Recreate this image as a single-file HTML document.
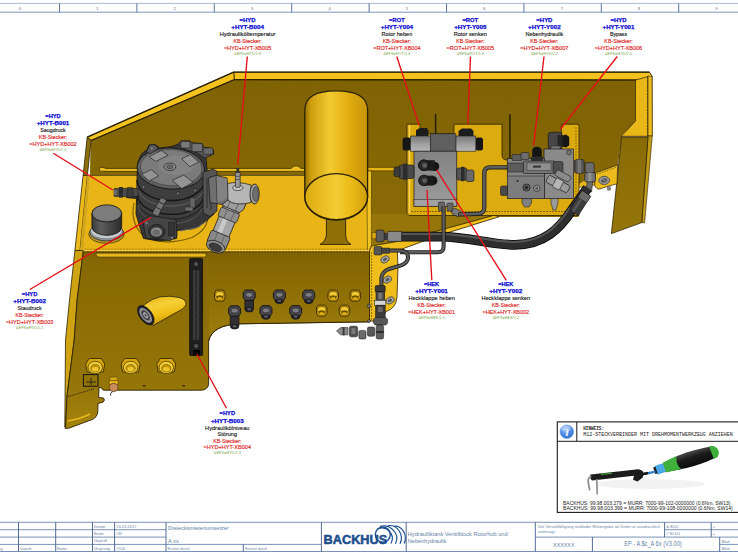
<!DOCTYPE html>
<html><head><meta charset="utf-8"><title>Hydrauliktank</title>
<style>
html,body{margin:0;padding:0;background:#fff;}
body{width:738px;height:555px;overflow:hidden;font-family:"Liberation Sans",sans-serif;}
svg{display:block;}
text{font-family:"Liberation Sans",sans-serif;}
.b{font-weight:bold;fill:#0a0ad4;stroke:#0a0ad4;stroke-width:0.25px;}
.k{fill:#0c0c0c;stroke:#0c0c0c;stroke-width:0.12px;}
.r{fill:#dc1c20;stroke:#dc1c20;stroke-width:0.15px;}
.g{fill:#7aa84a;}
.tb{fill:#5f7fa6;}
.mono{font-family:"Liberation Mono",monospace;fill:#222;}
</style></head><body>
<svg width="738" height="555" viewBox="0 0 738 555">
<defs>
<linearGradient id="gFront" x1="0" y1="0" x2="0" y2="1"><stop offset="0" stop-color="#7e6002"/><stop offset="0.15" stop-color="#856704"/><stop offset="1" stop-color="#9c7c0a"/></linearGradient>
<linearGradient id="gFrontL" x1="0" y1="0" x2="0" y2="1"><stop offset="0" stop-color="#7e6002"/><stop offset="0.08" stop-color="#876904"/><stop offset="0.78" stop-color="#957608"/><stop offset="1" stop-color="#a5840c"/></linearGradient>
<linearGradient id="gCyl" x1="0" y1="0" x2="1" y2="0"><stop offset="0" stop-color="#947204"/><stop offset="0.09" stop-color="#cc9c0c"/><stop offset="0.4" stop-color="#f3cb32"/><stop offset="0.68" stop-color="#e2ae10"/><stop offset="1" stop-color="#c6940a"/></linearGradient>
<linearGradient id="gCylIn" x1="0" y1="0" x2="1" y2="0"><stop offset="0" stop-color="#dcaa0e"/><stop offset="0.5" stop-color="#f4cc34"/><stop offset="0.72" stop-color="#ecbc18"/><stop offset="1" stop-color="#d09e0a"/></linearGradient>
<linearGradient id="gBW" x1="0" y1="0" x2="0" y2="1"><stop offset="0" stop-color="#7f6202"/><stop offset="1" stop-color="#8b6c06"/></linearGradient>
<linearGradient id="gSide" x1="0" y1="0" x2="0" y2="1"><stop offset="0" stop-color="#896b06"/><stop offset="1" stop-color="#95760a"/></linearGradient>
<linearGradient id="gCap" x1="0" y1="0" x2="1" y2="0"><stop offset="0" stop-color="#3a3a3a"/><stop offset="0.3" stop-color="#5e5e5e"/><stop offset="1" stop-color="#2a2a2a"/></linearGradient>
<linearGradient id="gSmallCyl" x1="0" y1="0" x2="0.35" y2="1"><stop offset="0" stop-color="#e0ae0c"/><stop offset="0.4" stop-color="#f6d038"/><stop offset="0.7" stop-color="#eebc14"/><stop offset="1" stop-color="#cc9c08"/></linearGradient>
<radialGradient id="gInfo" cx="0.4" cy="0.3" r="0.8"><stop offset="0" stop-color="#a8ccf8"/><stop offset="0.55" stop-color="#4a8ae6"/><stop offset="1" stop-color="#2a62c4"/></radialGradient>
<linearGradient id="gHandle" x1="0" y1="0" x2="0" y2="1"><stop offset="0" stop-color="#4a4a4a"/><stop offset="0.4" stop-color="#1c1c1c"/><stop offset="1" stop-color="#0c0c0c"/></linearGradient>
<linearGradient id="gCoil" x1="0" y1="0" x2="0" y2="1"><stop offset="0" stop-color="#767676"/><stop offset="0.6" stop-color="#a4a4a4"/><stop offset="1" stop-color="#b6b6b6"/></linearGradient>
<linearGradient id="gBody" x1="0" y1="0" x2="0" y2="1"><stop offset="0" stop-color="#828282"/><stop offset="1" stop-color="#9c9c9c"/></linearGradient>
</defs>
<rect x="0" y="0" width="738" height="555" fill="#ffffff"/>

<g id="ruler" fill="none">
<line x1="0" y1="3.4" x2="738" y2="3.4" stroke="#9db1ce" stroke-width="0.9"/><line x1="0" y1="12.2" x2="738" y2="12.2" stroke="#7b95ba" stroke-width="1"/>
<line x1="59.5" y1="3.4" x2="59.5" y2="12.2" stroke="#4a6690" stroke-width="0.9"/>
<line x1="136.9" y1="3.4" x2="136.9" y2="12.2" stroke="#4a6690" stroke-width="0.9"/>
<line x1="214.3" y1="3.4" x2="214.3" y2="12.2" stroke="#4a6690" stroke-width="0.9"/>
<line x1="291.7" y1="3.4" x2="291.7" y2="12.2" stroke="#4a6690" stroke-width="0.9"/>
<line x1="369.1" y1="3.4" x2="369.1" y2="12.2" stroke="#4a6690" stroke-width="0.9"/>
<line x1="446.5" y1="3.4" x2="446.5" y2="12.2" stroke="#4a6690" stroke-width="0.9"/>
<line x1="523.9" y1="3.4" x2="523.9" y2="12.2" stroke="#4a6690" stroke-width="0.9"/>
<line x1="601.3" y1="3.4" x2="601.3" y2="12.2" stroke="#4a6690" stroke-width="0.9"/>
<line x1="678.7" y1="3.4" x2="678.7" y2="12.2" stroke="#4a6690" stroke-width="0.9"/>
</g>
<text x="19.9" y="10" font-size="3.6" text-anchor="middle" fill="#44557a">0</text>
<text x="97.3" y="10" font-size="3.6" text-anchor="middle" fill="#44557a">1</text>
<text x="174.7" y="10" font-size="3.6" text-anchor="middle" fill="#44557a">2</text>
<text x="252.1" y="10" font-size="3.6" text-anchor="middle" fill="#44557a">3</text>
<text x="329.5" y="10" font-size="3.6" text-anchor="middle" fill="#44557a">4</text>
<text x="406.9" y="10" font-size="3.6" text-anchor="middle" fill="#44557a">5</text>
<text x="484.3" y="10" font-size="3.6" text-anchor="middle" fill="#44557a">6</text>
<text x="561.7" y="10" font-size="3.6" text-anchor="middle" fill="#44557a">7</text>
<text x="639.1" y="10" font-size="3.6" text-anchor="middle" fill="#44557a">8</text>
<text x="716.5" y="10" font-size="3.6" text-anchor="middle" fill="#44557a">9</text>
<g id="tank" stroke-linejoin="round">
<polygon points="90.5,140.5 234,79 637,79 637,122 622,135 618,165 595.4,173 578.5,184 578.5,217 496,217 400,243 371,249 371,172 304,175.4 90,175.4" fill="url(#gBW)" stroke="none"/>
<polygon points="87.2,137.2 233.6,72.2 649.5,72.2 652,76 652,136 648,136 648,80.5 636,80 234.5,79.6 91,140.5" fill="#f3c21d" stroke="#2b2204" stroke-width="0.9"/>
<line x1="233.8" y1="72.4" x2="234.4" y2="79.6" stroke="#2b2204" stroke-width="1"/><polyline points="87.2,137.2 233.6,72.2 649.5,72.2" fill="none" stroke="#2b2204" stroke-width="1.3"/><polyline points="91,140.5 234.5,79.6 636,80" fill="none" stroke="#2b2204" stroke-width="1.1"/>
<polygon points="635.5,80 648,76.5 648,136.3 621.3,136.3 635.5,121" fill="#e9b718" stroke="#2b2204" stroke-width="0.7"/>
<polygon points="648,76 652,76.5 652.3,136 648,136" fill="#eebc1c" stroke="#2b2204" stroke-width="0.6"/><polygon points="648,136 652.3,136 644.6,223 641.6,222.4" fill="#c29c16" stroke="#2b2204" stroke-width="0.6"/>
<line x1="647.6" y1="77" x2="647.6" y2="136" stroke="#2b2204" stroke-width="0.6" stroke-dasharray="2 1.2"/>
<polygon points="621.6,137 648,137 641.8,222.6 611.4,233.6" fill="url(#gSide)" stroke="#2b2204" stroke-width="0.8"/>
<polygon points="578.5,184 595.4,173 595,185 578.5,187.6" fill="#e9b81a" stroke="#2b2204" stroke-width="0.5"/>
<path d="M595.4,173 L617.7,164.9 L617,183.8 L609.6,185.8 L600,189 Q596,189.6 594.7,185.1 Z" fill="#ecbb1c" stroke="#2b2204" stroke-width="0.7"/>
<line x1="597" y1="174.2" x2="616.6" y2="167" stroke="#2b2204" stroke-width="0.5" stroke-dasharray="1.6 1"/>
<ellipse cx="604.2" cy="180.4" rx="5.4" ry="4.1" fill="#9a9a9a" stroke="#333" stroke-width="0.7"/><ellipse cx="604.2" cy="180.4" rx="3" ry="2.2" fill="#4e4e4e"/><path d="M602,179 L606.4,181.6" stroke="#bbb" stroke-width="0.7"/>
<rect x="607.4" y="186.6" width="3" height="3.6" fill="#888" stroke="#333" stroke-width="0.4"/>
<polygon points="90,175.4 304,175.4 367,172 370,250.5 83.4,250.5" fill="#e8b416" stroke="none"/>
<path d="M99.2,169.4 Q99,167.2 101.5,167.2 Q104,167.4 105.6,168.4 H291 Q293,165.8 296,165.8 Q299.4,165.8 301,168.4 H304.6 V171.4 H101.6 Q99.4,171.4 99.2,169.4 Z" fill="#ecbb1e" stroke="#2b2204" stroke-width="0.7"/>
<line x1="90" y1="175.4" x2="304.6" y2="175.4" stroke="#2b2204" stroke-width="0.7"/>
<polygon points="366,167.4 394.5,167.4 394.5,170.8 366,170.8" fill="#e8b416" stroke="#2b2204" stroke-width="0.5"/>
<polygon points="366.8,171 371.4,171 371.4,250.5 367.5,250.5" fill="#f2c324" stroke="#2b2204" stroke-width="0.5"/>
<polygon points="87.2,137.2 91,140.5 87.4,175.4 83.1,175.4" fill="#8c6e0a" stroke="#2b2204" stroke-width="0.8"/>
<polygon points="83.1,175.4 87.4,175.4 80,250.5 74.9,250.5" fill="#ecba1a" stroke="#2b2204" stroke-width="0.8"/>
<polygon points="87.4,175.4 90.2,175.4 83.6,250.5 80,250.5" fill="#d2a614" stroke="none"/>
<polygon points="74.9,250.5 83.4,250.5 77.1,300 74.2,340 67,396 65.6,426 64.8,427 65.5,340 69.5,300" fill="#d0a312" stroke="#2b2204" stroke-width="0.8"/>
<path d="M83.4,250.5 H369.5 V321.8 L240,323.8 Q212.5,324.8 208.6,341 V384 Q208,390 201,390.2 H104 Q102.4,390.4 102,388 L99,387.4 L98.6,397.6 L103.6,398 Q105.4,400.4 103,402.2 L98,403.4 L97.8,412 Q97,417.6 92,419.6 L68.8,428.2 L65,428.4 L65.6,426 L67,396 L74.2,340 L77.1,300 Z" fill="url(#gFrontL)" stroke="#2b2204" stroke-width="0.9"/>
<path d="M209,250.5 H369.5 V321.8 L240,323.8 Q214,324.8 209,338 Z" fill="url(#gFront)" stroke="none"/>
<path d="M369.5,250.5 V321.8 L240,323.8 Q212.5,324.8 208.6,341" fill="none" stroke="#2b2204" stroke-width="0.9"/>
<line x1="83.4" y1="250.6" x2="370" y2="250.6" stroke="#f5d048" stroke-width="1.2"/>
<line x1="84" y1="252" x2="370" y2="252" stroke="#2b2204" stroke-width="0.6" stroke-dasharray="2.2 0.8"/>
<line x1="84" y1="249.2" x2="370" y2="249.2" stroke="#7a5c00" stroke-width="0.5" stroke-dasharray="2.2 0.8"/>
<path d="M96,253.2 H206 V256 Q206,257 204.5,257 H99 Q96,257 96,253.2Z" fill="#e9b91c" stroke="#2b2204" stroke-width="0.5"/>
<path d="M67.6,421 Q80,419 90,414" fill="none" stroke="#e8ba20" stroke-width="1.6"/>
<polygon points="371.4,214 496,214 448,229 400,242 371.4,248" fill="#96750a" stroke="none"/>
<path d="M371.4,246 L400,241 L448,228 L494.5,215.2 L499,216.8 L490,219.6 L449,232.4 L420,242.4 L399.4,250 L397.4,253 L398,267 L397,297 Q396,308.5 386,311.5 L381,321 L369.5,321 V250.5 Z" fill="#efbe1c" stroke="#2b2204" stroke-width="0.8"/>
<line x1="371.6" y1="252" x2="371.6" y2="321" stroke="#2b2204" stroke-width="0.5" stroke-dasharray="2 1"/>
</g>
<path d="M407,124.2 H420 V133.8 H454 V124.2 H502 V155 Q502,160 507,160 H561.4 V124.2 H577 Q579,124.2 579,126.5 V215.5 H409 L407,213.5 Z" fill="#dcab10" stroke="#2b2204" stroke-width="0.8"/>
<line x1="409.5" y1="125" x2="409.5" y2="213" stroke="#f7d458" stroke-width="1.4"/>
<line x1="411" y1="211.5" x2="578" y2="211.5" stroke="#2b2204" stroke-width="0.5" stroke-dasharray="2 1"/>
<line x1="576" y1="127" x2="576" y2="213" stroke="#2b2204" stroke-width="0.4" stroke-dasharray="2 1"/>
<g id="cyl">
<path d="M326.4,216 H345.6 V235 Q346,241.6 351,244.4 H320 Q325.6,241.6 326.4,235 Z" fill="#8e7006" stroke="#2b2204" stroke-width="0.9"/>
<path d="M304.8,197 V110 C304.8,96 318,90.8 336.2,90.8 C354.4,90.8 367.6,96 367.6,110 V197 A31.4,23 0 0 1 304.8,197 Z" fill="url(#gCyl)" stroke="#2b2204" stroke-width="1.3"/>
<ellipse cx="336.2" cy="196.6" rx="31.4" ry="23" fill="url(#gCylIn)" stroke="#2b2204" stroke-width="1.4"/>
</g>
<g transform="translate(219.8,295.4) scale(1.15)"><path d="M-4.6,-2 L-3,-4.6 H3 L4.6,-2 V2.4 L3,5 H-3 L-4.6,2.4 Z" fill="#c4960a" stroke="#2b2000" stroke-width="0.7"/><ellipse cx="0" cy="-0.8" rx="3.6" ry="2.6" fill="#f2ca34" stroke="#4a3800" stroke-width="0.5"/><ellipse cx="0" cy="1.6" rx="2.8" ry="1.7" fill="#6e5400"/><ellipse cx="0" cy="2.6" rx="2" ry="1" fill="#e8b818"/></g>
<g transform="translate(333.2,295.4) scale(1.15)"><path d="M-4.6,-2 L-3,-4.6 H3 L4.6,-2 V2.4 L3,5 H-3 L-4.6,2.4 Z" fill="#c4960a" stroke="#2b2000" stroke-width="0.7"/><ellipse cx="0" cy="-0.8" rx="3.6" ry="2.6" fill="#f2ca34" stroke="#4a3800" stroke-width="0.5"/><ellipse cx="0" cy="1.6" rx="2.8" ry="1.7" fill="#6e5400"/><ellipse cx="0" cy="2.6" rx="2" ry="1" fill="#e8b818"/></g>
<g transform="translate(355.3,295.4) scale(1.15)"><path d="M-4.6,-2 L-3,-4.6 H3 L4.6,-2 V2.4 L3,5 H-3 L-4.6,2.4 Z" fill="#c4960a" stroke="#2b2000" stroke-width="0.7"/><ellipse cx="0" cy="-0.8" rx="3.6" ry="2.6" fill="#f2ca34" stroke="#4a3800" stroke-width="0.5"/><ellipse cx="0" cy="1.6" rx="2.8" ry="1.7" fill="#6e5400"/><ellipse cx="0" cy="2.6" rx="2" ry="1" fill="#e8b818"/></g>
<g transform="translate(321.7,310.4) scale(1.15)"><path d="M-4.6,-2 L-3,-4.6 H3 L4.6,-2 V2.4 L3,5 H-3 L-4.6,2.4 Z" fill="#c4960a" stroke="#2b2000" stroke-width="0.7"/><ellipse cx="0" cy="-0.8" rx="3.6" ry="2.6" fill="#f2ca34" stroke="#4a3800" stroke-width="0.5"/><ellipse cx="0" cy="1.6" rx="2.8" ry="1.7" fill="#6e5400"/><ellipse cx="0" cy="2.6" rx="2" ry="1" fill="#e8b818"/></g>
<g transform="translate(344.5,310.4) scale(1.15)"><path d="M-4.6,-2 L-3,-4.6 H3 L4.6,-2 V2.4 L3,5 H-3 L-4.6,2.4 Z" fill="#c4960a" stroke="#2b2000" stroke-width="0.7"/><ellipse cx="0" cy="-0.8" rx="3.6" ry="2.6" fill="#f2ca34" stroke="#4a3800" stroke-width="0.5"/><ellipse cx="0" cy="1.6" rx="2.8" ry="1.7" fill="#6e5400"/><ellipse cx="0" cy="2.6" rx="2" ry="1" fill="#e8b818"/></g>
<g transform="translate(249.2,295.8) scale(1.2)"><rect x="-3.6" y="-1" width="7.2" height="14" rx="2" fill="#303034" stroke="#101010" stroke-width="0.6"/><path d="M-5,-2.6 L-3.2,-4.8 H3.2 L5,-2.6 V1.6 L3.2,3.8 H-3.2 L-5,1.6 Z" fill="#45454a" stroke="#101010" stroke-width="0.7"/><ellipse cx="0" cy="-0.8" rx="3" ry="2" fill="#7c7c84" stroke="#1a1a1a" stroke-width="0.4"/><ellipse cx="0" cy="11.6" rx="3" ry="2.2" fill="#1e1e22"/><ellipse cx="0" cy="11.2" rx="1.6" ry="1" fill="#5a5a60"/></g>
<g transform="translate(279.4,295.8) scale(1.2)"><rect x="-3.6" y="-1" width="7.2" height="7" rx="2" fill="#303034" stroke="#101010" stroke-width="0.6"/><path d="M-5,-2.6 L-3.2,-4.8 H3.2 L5,-2.6 V1.6 L3.2,3.8 H-3.2 L-5,1.6 Z" fill="#45454a" stroke="#101010" stroke-width="0.7"/><ellipse cx="0" cy="-0.8" rx="3" ry="2" fill="#7c7c84" stroke="#1a1a1a" stroke-width="0.4"/><ellipse cx="0" cy="4.6" rx="3" ry="2.2" fill="#1e1e22"/><ellipse cx="0" cy="4.2" rx="1.6" ry="1" fill="#5a5a60"/></g>
<g transform="translate(308.7,295.8) scale(1.2)"><rect x="-3.6" y="-1" width="7.2" height="7" rx="2" fill="#303034" stroke="#101010" stroke-width="0.6"/><path d="M-5,-2.6 L-3.2,-4.8 H3.2 L5,-2.6 V1.6 L3.2,3.8 H-3.2 L-5,1.6 Z" fill="#45454a" stroke="#101010" stroke-width="0.7"/><ellipse cx="0" cy="-0.8" rx="3" ry="2" fill="#7c7c84" stroke="#1a1a1a" stroke-width="0.4"/><ellipse cx="0" cy="4.6" rx="3" ry="2.2" fill="#1e1e22"/><ellipse cx="0" cy="4.2" rx="1.6" ry="1" fill="#5a5a60"/></g>
<g transform="translate(234.6,311.6) scale(1.2)"><rect x="-3.6" y="-1" width="7.2" height="15" rx="2" fill="#303034" stroke="#101010" stroke-width="0.6"/><path d="M-5,-2.6 L-3.2,-4.8 H3.2 L5,-2.6 V1.6 L3.2,3.8 H-3.2 L-5,1.6 Z" fill="#45454a" stroke="#101010" stroke-width="0.7"/><ellipse cx="0" cy="-0.8" rx="3" ry="2" fill="#7c7c84" stroke="#1a1a1a" stroke-width="0.4"/><ellipse cx="0" cy="12.6" rx="3" ry="2.2" fill="#1e1e22"/><ellipse cx="0" cy="12.2" rx="1.6" ry="1" fill="#5a5a60"/></g>
<g transform="translate(266,311.4) scale(1.2)"><rect x="-3.6" y="-1" width="7.2" height="7" rx="2" fill="#303034" stroke="#101010" stroke-width="0.6"/><path d="M-5,-2.6 L-3.2,-4.8 H3.2 L5,-2.6 V1.6 L3.2,3.8 H-3.2 L-5,1.6 Z" fill="#45454a" stroke="#101010" stroke-width="0.7"/><ellipse cx="0" cy="-0.8" rx="3" ry="2" fill="#7c7c84" stroke="#1a1a1a" stroke-width="0.4"/><ellipse cx="0" cy="4.6" rx="3" ry="2.2" fill="#1e1e22"/><ellipse cx="0" cy="4.2" rx="1.6" ry="1" fill="#5a5a60"/></g>
<g transform="translate(295.7,311.4) scale(1.2)"><rect x="-3.6" y="-1" width="7.2" height="7" rx="2" fill="#303034" stroke="#101010" stroke-width="0.6"/><path d="M-5,-2.6 L-3.2,-4.8 H3.2 L5,-2.6 V1.6 L3.2,3.8 H-3.2 L-5,1.6 Z" fill="#45454a" stroke="#101010" stroke-width="0.7"/><ellipse cx="0" cy="-0.8" rx="3" ry="2" fill="#7c7c84" stroke="#1a1a1a" stroke-width="0.4"/><ellipse cx="0" cy="4.6" rx="3" ry="2.2" fill="#1e1e22"/><ellipse cx="0" cy="4.2" rx="1.6" ry="1" fill="#5a5a60"/></g>
<g transform="translate(95.2,367)"><path d="M-9.5,-3 L-6,-8.5 L6,-8.5 L9.5,-3 L8,5 L-8,5 Z" fill="#d8a60c" stroke="#2b2204" stroke-width="0.8"/><ellipse cx="0" cy="0.5" rx="7.2" ry="6.2" fill="#f4ce36" stroke="#3a2c00" stroke-width="0.7"/><ellipse cx="0" cy="1.2" rx="4.6" ry="3.8" fill="#c4960a" stroke="#5a4400" stroke-width="0.5"/><ellipse cx="0" cy="2.2" rx="3.2" ry="2.2" fill="#f0c630"/></g>
<g transform="translate(130.6,367)"><path d="M-9.5,-3 L-6,-8.5 L6,-8.5 L9.5,-3 L8,5 L-8,5 Z" fill="#d8a60c" stroke="#2b2204" stroke-width="0.8"/><ellipse cx="0" cy="0.5" rx="7.2" ry="6.2" fill="#f4ce36" stroke="#3a2c00" stroke-width="0.7"/><ellipse cx="0" cy="1.2" rx="4.6" ry="3.8" fill="#c4960a" stroke="#5a4400" stroke-width="0.5"/><ellipse cx="0" cy="2.2" rx="3.2" ry="2.2" fill="#f0c630"/></g>
<g transform="translate(166.3,367)"><path d="M-9.5,-3 L-6,-8.5 L6,-8.5 L9.5,-3 L8,5 L-8,5 Z" fill="#d8a60c" stroke="#2b2204" stroke-width="0.8"/><ellipse cx="0" cy="0.5" rx="7.2" ry="6.2" fill="#f4ce36" stroke="#3a2c00" stroke-width="0.7"/><ellipse cx="0" cy="1.2" rx="4.6" ry="3.8" fill="#c4960a" stroke="#5a4400" stroke-width="0.5"/><ellipse cx="0" cy="2.2" rx="3.2" ry="2.2" fill="#f0c630"/></g>
<g transform="translate(113.6,382.5)"><rect x="-4" y="-5.5" width="8" height="4" rx="1.4" fill="#d9a80f" stroke="#3a2c00" stroke-width="0.5"/><rect x="-4.6" y="-2" width="9.2" height="4" rx="1.4" fill="#e5b617" stroke="#3a2c00" stroke-width="0.5"/><ellipse cx="0" cy="5" rx="4.4" ry="4.2" fill="#c98a5a" stroke="#4a2a10" stroke-width="0.6"/><path d="M-1,9 q-3,2 -2,4" stroke="#222" stroke-width="1" fill="none"/></g>
<rect x="83.4" y="374.6" width="14.6" height="11.6" fill="#927408" stroke="#141414" stroke-width="1"/><path d="M86,382 H96 M91,378 V385" stroke="#141414" stroke-width="0.8"/>
<path d="M68,396.6 L94,388.8" stroke="#2a2000" stroke-width="0.9" stroke-dasharray="1.2 0.8" fill="none"/>
<rect x="142.5" y="385" width="3.2" height="1.6" rx="0.8" fill="#3a2c00"/><rect x="182" y="385" width="3.2" height="1.6" rx="0.8" fill="#3a2c00"/>
<g id="gauge"><rect x="189.6" y="258.6" width="13" height="97" rx="1.2" fill="#1e1e1e" stroke="#000" stroke-width="0.6"/><rect x="193" y="270" width="6.2" height="70" fill="#3a3a3a"/><line x1="196.1" y1="270" x2="196.1" y2="340" stroke="#111" stroke-width="1.4" stroke-dasharray="1.2 1.2"/><circle cx="196.1" cy="264" r="2" fill="#555"/><circle cx="196.1" cy="346" r="2" fill="#555"/><rect x="193" y="350" width="7" height="5.5" fill="#000"/></g>
<g id="smallcyl"><path d="M139.5,309 L145.3,304 Q152,298.6 160,296.8 Q170,295.4 179,297.4 Q186.6,299.6 186,304.6 Q184.6,308.6 176,312.6 L153,325.6 Z" fill="url(#gSmallCyl)" stroke="#2b2204" stroke-width="0.8"/><g transform="rotate(-37 145.8 315.2)"><ellipse cx="145.8" cy="315.2" rx="6.2" ry="11.2" fill="#1e1e2a" stroke="#0c0c0c" stroke-width="0.6"/><ellipse cx="145.6" cy="315.2" rx="4.6" ry="8.8" fill="#8c8c90"/><ellipse cx="145.6" cy="315.2" rx="3" ry="5.8" fill="#3a3a44"/><ellipse cx="145.6" cy="315.2" rx="1.9" ry="3.6" fill="#a2a2a6"/><ellipse cx="145.6" cy="315.2" rx="0.8" ry="1.5" fill="#44444c"/></g></g>
<g id="cap"><ellipse cx="106.5" cy="234.2" rx="17.8" ry="9.2" fill="#b39628" stroke="#2b2204" stroke-width="0.6"/><ellipse cx="106.5" cy="232.2" rx="16.8" ry="8.7" fill="#8f979b" stroke="#222" stroke-width="0.7"/><ellipse cx="106.5" cy="230.8" rx="15.8" ry="8" fill="#c4cccf" stroke="#444" stroke-width="0.4"/><path d="M91.9,213.4 V227 A14.9,8.4 0 0 0 121.7,227 V213.4 Z" fill="url(#gCap)" stroke="#0a0a0a" stroke-width="0.7"/><ellipse cx="106.8" cy="213.4" rx="14.9" ry="8.6" fill="#747474" stroke="#0a0a0a" stroke-width="0.8"/><ellipse cx="106.8" cy="213" rx="13.4" ry="7.4" fill="#7c7c7c"/></g>
<g id="pump">
<path d="M134,203 Q129.5,224 145,237 Q165,246.5 192,237.5 Q209,229 208,214" fill="none" stroke="#7a5e00" stroke-width="1.1"/>
<path d="M138,162 Q141,152 147,150 L149,145 L155,144.5 L160,148 L172,146.5 L178.5,144 L181,141 L190,141 L192,143 L202,143.5 L204,147.5 L212.5,148.5 L213.8,154 L206,157 L207,170 L213.5,172 L214,214 L206,221 L199,226.5 L193,228.8 L177,230.5 L176.5,238.5 L160,241 L143.5,238.5 L139.5,226 L136,214 L136.5,198.5 L126.5,197.5 L126.5,189.5 L137,189 Z" fill="#373737" stroke="#141414" stroke-width="0.8"/>
<path d="M178.5,144 L181,141 L190,141 L192,143 L202,143.5 L204,147.5 L212.5,148.5 L213.8,154 L205,158 L196,152 L186,150 Z" fill="#565656" stroke="#141414" stroke-width="0.6"/>
<rect x="181" y="141.6" width="9" height="6.4" rx="1.2" fill="#7a7a7a" stroke="#141414" stroke-width="0.5"/><rect x="192" y="143.6" width="10.4" height="8" rx="1.2" fill="#727272" stroke="#141414" stroke-width="0.5"/><rect x="203.4" y="148" width="9.6" height="6.4" rx="1.2" fill="#686868" stroke="#141414" stroke-width="0.5"/>
<path d="M137,172 V202 A33.8,20 0 0 0 204,202 V172 Z" fill="#3e3e3e" stroke="#141414" stroke-width="0.7"/>
<path d="M137,180 A33.8,20.6 0 0 0 204.6,180" fill="none" stroke="#161616" stroke-width="1.6"/>
<path d="M137,185.5 A33.8,20.6 0 0 0 204.6,185.5" fill="none" stroke="#666" stroke-width="0.9"/>
<path d="M137.5,195 A33.4,20 0 0 0 204,197" fill="none" stroke="#161616" stroke-width="1.4"/>
<path d="M138.5,205 A32,18.6 0 0 0 202,208.5" fill="none" stroke="#5c5c5c" stroke-width="0.9"/>
<ellipse cx="170.8" cy="168.5" rx="33.8" ry="20.6" transform="rotate(3 170.8 168.5)" fill="#5e5e5e" stroke="#141414" stroke-width="0.9"/>
<ellipse cx="171.2" cy="167.6" rx="30.6" ry="18" transform="rotate(3 171.2 167.6)" fill="#7b7b7b" stroke="#3a3a3a" stroke-width="0.5"/>
<ellipse cx="176" cy="165" rx="18" ry="10" fill="#8a8a8a" opacity="0.55"/>
<polygon points="149.1,156.7 161.3,150.6 168.1,155.3 155.9,161.4" fill="#949494" stroke="#262626" stroke-width="0.7"/>
<polygon points="181.7,158.7 190.5,154.6 198.6,162.1 189.8,166.8" fill="#949494" stroke="#262626" stroke-width="0.7"/>
<polygon points="141.7,174.3 151.2,169.6 158.6,175.7 149.1,181.1" fill="#949494" stroke="#262626" stroke-width="0.7"/>
<polygon points="172.2,180.4 183.7,175 193.2,182.4 181.7,188.5" fill="#949494" stroke="#262626" stroke-width="0.7"/>
<ellipse cx="169.9" cy="166.8" rx="6" ry="3.8" fill="#868686" stroke="#222" stroke-width="0.7"/><ellipse cx="169.9" cy="166.8" rx="3" ry="1.9" fill="#6a6a6a" stroke="#222" stroke-width="0.5"/>
<path d="M146.4,152 L149.5,145 L155,144.6 L158,148.6 L150.5,153.6 Z" fill="#5a5a5a" stroke="#141414" stroke-width="0.6"/><circle cx="151.8" cy="148.4" r="1.6" fill="#8a8a8a" stroke="#222" stroke-width="0.4"/>
<circle cx="143.5" cy="187" r="1.7" fill="#6e6e6e" stroke="#151515" stroke-width="0.5"/>
<circle cx="195" cy="190.5" r="1.7" fill="#6e6e6e" stroke="#151515" stroke-width="0.5"/>
<circle cx="203" cy="176" r="1.7" fill="#6e6e6e" stroke="#151515" stroke-width="0.5"/>
<circle cx="178" cy="193.4" r="1.7" fill="#6e6e6e" stroke="#151515" stroke-width="0.5"/>
<rect x="114" y="188.4" width="24" height="8.2" rx="1" fill="#4a4a4a" stroke="#141414" stroke-width="0.6"/><rect x="119" y="187" width="4" height="10.6" fill="#2c2c2c"/><rect x="127" y="187.4" width="6" height="10.4" rx="1" fill="#3a3a3a" stroke="#141414" stroke-width="0.4"/><rect x="114" y="190" width="3" height="5" fill="#6a6a6a"/>
<path d="M161,197.4 L166.6,200 L158,216.4 L152,213.6 Z" fill="#747474" stroke="#141414" stroke-width="0.6"/><path d="M159,202 L164.4,204.6" stroke="#222" stroke-width="0.9"/><path d="M156.4,207.4 L161.6,210" stroke="#222" stroke-width="0.9"/>
<path d="M142.4,220 L150,215.6 L176,219.5 L177,236.5 L170,240.6 L146,238.2 Z" fill="#454545" stroke="#141414" stroke-width="0.7"/>
<ellipse cx="156.6" cy="231.6" rx="8.2" ry="7" fill="#3a3a3a" stroke="#141414" stroke-width="0.8"/><ellipse cx="156.4" cy="232" rx="6" ry="5" fill="#8c8c8c" stroke="#1a1a1a" stroke-width="0.6"/><ellipse cx="156.2" cy="232.6" rx="3.8" ry="3" fill="#6a6a6a"/>
<rect x="168.6" y="222.5" width="6" height="13" fill="#353535" stroke="#111" stroke-width="0.4"/><circle cx="146.6" cy="223" r="1.2" fill="#777"/><circle cx="172" cy="238" r="1.2" fill="#777"/>
<path d="M203,172 L213.5,169 L217,171.5 L217,211 L210,216.5 L203,213 Z" fill="#555" stroke="#141414" stroke-width="0.7"/>
<path d="M207,178 V208 M211,176 V210" stroke="#262626" stroke-width="0.8"/>
<path d="M180,231 L197,227.6 L206,221.6" fill="none" stroke="#6c6c6c" stroke-width="1"/>
<rect x="190" y="198" width="5" height="10" fill="#666" stroke="#1a1a1a" stroke-width="0.4"/>
<rect x="185" y="207" width="8" height="4" fill="#6a6a6a" stroke="#1a1a1a" stroke-width="0.4"/>
</g>
<g id="tfit">
<g transform="translate(237.5,194) rotate(22.5)"><rect x="-8.6" y="6" width="17.2" height="50" rx="2" fill="#a6a6a6" stroke="#141414" stroke-width="0.7"/><rect x="-4" y="6" width="4.5" height="50" fill="#d2d2d2" opacity="0.8"/><path d="M-11.5,3 L-9,-1 H9 L11.5,3 V12 L9,16.5 H-9 L-11.5,12 Z" fill="#9c9c9c" stroke="#141414" stroke-width="0.7"/><path d="M-4,-1 V16.5 M4.5,-1 V16.5" stroke="#444" stroke-width="0.6"/><rect x="-10" y="18" width="20" height="9.5" rx="1.5" fill="#8f8f8f" stroke="#141414" stroke-width="0.6"/><path d="M-3.5,18 V27.5 M4,18 V27.5" stroke="#444" stroke-width="0.5"/><rect x="-10.2" y="43" width="20.4" height="13" rx="2" fill="#8a8a8a" stroke="#141414" stroke-width="0.7"/><path d="M-3.5,43 V56 M4,43 V56" stroke="#444" stroke-width="0.5"/><ellipse cx="0" cy="57" rx="9.8" ry="5.6" fill="#8f8f8f" stroke="#141414" stroke-width="0.7"/><ellipse cx="0" cy="57.6" rx="6.8" ry="3.6" fill="#3c3c3c" stroke="#111" stroke-width="0.5"/></g>
<path d="M208.5,178 L216,175.3 L227,178 L229.4,199 L222,204.5 L210,202.5 Z" fill="#707070" stroke="#141414" stroke-width="0.7"/><path d="M216,175.3 L217.2,203.6" stroke="#2a2a2a" stroke-width="0.7"/><path d="M216.5,176 L227,178.4 L228.6,198 L217.4,202.6 Z" fill="#8a8a8a" opacity="0.7"/>
<path d="M227.6,183.5 Q238,181 251,185 V202.6 Q240,205 233,203 L228,200.4 Z" fill="#b6b6b6" stroke="#141414" stroke-width="0.7"/>
<ellipse cx="254.6" cy="194" rx="4.6" ry="10" fill="#a2a2a2" stroke="#141414" stroke-width="0.8"/><ellipse cx="255.4" cy="194" rx="2.8" ry="7.4" fill="#6f6f6f" stroke="#222" stroke-width="0.5"/>
<ellipse cx="237.8" cy="187.8" rx="5.2" ry="2.8" fill="#c8c8c8" stroke="#141414" stroke-width="0.6"/>
<rect x="235.4" y="172.4" width="4.8" height="15" rx="0.8" fill="#9a9a9a" stroke="#141414" stroke-width="0.6"/><rect x="236.4" y="168" width="2.8" height="5" fill="#333"/><path d="M235.4,176.4 H240.2 M235.4,179.4 H240.2" stroke="#333" stroke-width="0.6"/>
</g>
<g id="lvalve">
<line x1="435.6" y1="114" x2="435.6" y2="134" stroke="#2a2208" stroke-width="1.6"/>
<path d="M416,136 V130 L420,128 H427 L428.5,131 V136 Z" fill="#1c1c1c"/><path d="M458.5,136 V131 L462,128.4 H471 L473.5,131 V136 Z" fill="#1c1c1c"/>
<rect x="402.6" y="137.6" width="8.4" height="13" rx="2.5" fill="#161616"/><rect x="475.4" y="137.6" width="7.6" height="13" rx="2.5" fill="#161616"/>
<rect x="410.4" y="136" width="20" height="15.2" fill="url(#gCoil)" stroke="#222" stroke-width="0.6"/><rect x="455.8" y="136" width="20" height="15.2" fill="url(#gCoil)" stroke="#222" stroke-width="0.6"/>
<rect x="430.3" y="133.8" width="25.6" height="17.4" fill="#5f5f5f" stroke="#1a1a1a" stroke-width="0.6"/>
<rect x="414" y="151.2" width="42.8" height="55" fill="url(#gBody)" stroke="#1a1a1a" stroke-width="0.7"/><rect x="414" y="199.6" width="42.8" height="6.6" fill="#a2a2a2" stroke="#1a1a1a" stroke-width="0.5"/>
<ellipse cx="435" cy="166.5" rx="4.2" ry="4.6" fill="#141414"/><circle cx="423.8" cy="165.2" r="5.3" fill="#262626" stroke="#000" stroke-width="0.6"/><circle cx="424.4" cy="165.4" r="2.6" fill="#555"/><rect x="423.8" y="160.2" width="11" height="10.4" fill="#1c1c1c"/><circle cx="423.8" cy="165.2" r="5.3" fill="#2b2b2b" stroke="#000" stroke-width="0.6"/><circle cx="424.6" cy="165.4" r="2.4" fill="#5d5d5d"/>
<ellipse cx="433.4" cy="180.6" rx="4" ry="4.4" fill="#141414"/><rect x="423.8" y="175.6" width="9.6" height="10" fill="#1c1c1c"/><circle cx="423.8" cy="180.4" r="5.3" fill="#2b2b2b" stroke="#000" stroke-width="0.6"/><circle cx="424.6" cy="180.6" r="2.4" fill="#5d5d5d"/>
<rect x="399" y="165" width="15" height="13.5" rx="2" fill="#4a4a4a" stroke="#111" stroke-width="0.6"/><rect x="403" y="163.6" width="4.5" height="16.4" rx="1" fill="#2c2c2c"/><rect x="394" y="167" width="6" height="9.5" rx="1.5" fill="#3b3b3b" stroke="#111" stroke-width="0.5"/>
<rect x="456.8" y="168" width="10" height="12" rx="1.5" fill="#555" stroke="#111" stroke-width="0.6"/><rect x="466" y="170" width="8" height="11.5" rx="2" fill="#6a6a6a" stroke="#111" stroke-width="0.6"/><rect x="461" y="166.8" width="3.5" height="14.4" fill="#2c2c2c"/>
<rect x="438.5" y="202" width="6" height="9" rx="1" fill="#666" stroke="#111" stroke-width="0.5"/><rect x="447" y="203" width="6" height="8" rx="1" fill="#666" stroke="#111" stroke-width="0.5"/><rect x="452" y="209" width="9" height="6.5" rx="2" transform="rotate(25 456 212)" fill="#777" stroke="#111" stroke-width="0.5"/>
</g>
<path d="M507,167.3 H490 Q484.3,167.3 484.3,173 V207 Q484.3,213.5 478,213.8 L460,214.4" fill="none" stroke="#1c1c1c" stroke-width="4.2" stroke-linecap="round"/><path d="M507,167.3 H490 Q484.3,167.3 484.3,173 V207 Q484.3,213.5 478,213.8 L460,214.4" fill="none" stroke="#5e5e5e" stroke-width="2.6" stroke-linecap="round"/>
<g id="rvalve">
<line x1="509.9" y1="114.3" x2="509.9" y2="158" stroke="#2a2208" stroke-width="1.6"/>
<rect x="548.2" y="132.2" width="14" height="17.4" rx="2.8" fill="#474747" stroke="#111" stroke-width="0.6"/><rect x="551" y="146" width="9" height="4.5" fill="#777" stroke="#111" stroke-width="0.4"/><path d="M561.4,136 L566,134.6 L569.2,137 V145.5 L566,147.4 L561.4,146.5 Z" fill="#161616"/><rect x="557.5" y="135" width="5" height="11" fill="#262626"/>
<rect x="544" y="149" width="29.4" height="49.6" fill="#8a8a8a" stroke="#1a1a1a" stroke-width="0.7"/>
<rect x="507.3" y="158.6" width="37" height="40" fill="#868686" stroke="#1a1a1a" stroke-width="0.7"/>
<rect x="507.3" y="176" width="37" height="22.6" fill="#7c7c7c" stroke="#1a1a1a" stroke-width="0.5"/>
<rect x="512" y="154.5" width="10" height="6" rx="1" fill="#5e5e5e" stroke="#111" stroke-width="0.5"/><rect x="521" y="152.5" width="8" height="7" rx="1" fill="#6c6c6c" stroke="#111" stroke-width="0.5"/>
<rect x="523" y="161" width="32" height="12.5" rx="1.5" fill="#747474" stroke="#111" stroke-width="0.6"/><rect x="527" y="163" width="24" height="7.4" fill="#8f8f8f" stroke="#222" stroke-width="0.4"/><rect x="533" y="165.6" width="8" height="2" fill="#333"/><rect x="507.3" y="163" width="16" height="9" rx="1" fill="#5c5c5c" stroke="#111" stroke-width="0.5"/><rect x="553" y="161.6" width="10" height="11.4" rx="2" fill="#4e4e4e" stroke="#111" stroke-width="0.5"/>
<path d="M532.2,158.6 V151 Q532.2,147 536.6,146.8 Q541.8,147 541.8,151 V158.6 Z" fill="#151515"/><rect x="531" y="156.5" width="12" height="4.5" rx="1" fill="#2c2c2c"/>
<circle cx="526.5" cy="187.5" r="3.6" fill="#5a5a5a" stroke="#111" stroke-width="0.6"/><circle cx="526.5" cy="187.5" r="1.6" fill="#222"/><circle cx="536.8" cy="188.3" r="3.2" fill="#9a9a9a" stroke="#111" stroke-width="0.6"/><circle cx="536.8" cy="188.3" r="1.5" fill="#555"/><circle cx="517.5" cy="181" r="0.9" fill="#222"/>
<g transform="translate(558,184) rotate(28)"><rect x="-12" y="-4" width="24" height="8" rx="2" fill="#9a9a9a" stroke="#111" stroke-width="0.6"/><rect x="-4" y="-5" width="8" height="10" rx="1" fill="#b5b5b5" stroke="#111" stroke-width="0.5"/></g>
<g transform="translate(563,176) rotate(28)"><rect x="-8" y="-3.2" width="16" height="6.4" rx="2" fill="#8a8a8a" stroke="#111" stroke-width="0.5"/></g>
<circle cx="569" cy="152.5" r="2.4" fill="#777" stroke="#111" stroke-width="0.5"/>
<rect x="500.5" y="186" width="7" height="9.5" rx="1.4" fill="#4a4a4a" stroke="#111" stroke-width="0.5"/>
<path d="M522,198.6 H531.5 V203 L529,207 H524.5 L522,203 Z" fill="#808080" stroke="#111" stroke-width="0.5"/><path d="M551,198.6 H558 V203 L556,210 H553 L551,203 Z" fill="#9a9a9a" stroke="#111" stroke-width="0.5"/>
<rect x="573.4" y="160" width="2" height="12" fill="#555"/><rect x="574.8" y="159.6" width="9.4" height="13.6" rx="1.6" fill="#585858" stroke="#111" stroke-width="0.6"/><rect x="577.6" y="159.6" width="3.4" height="13.6" fill="#767676"/>
<rect x="585.2" y="162.6" width="9" height="11" rx="2" fill="#6c6c6c" stroke="#111" stroke-width="0.6"/><rect x="584.6" y="172.6" width="10.8" height="9.4" rx="1.8" fill="#747474" stroke="#111" stroke-width="0.6"/><rect x="588" y="172.6" width="3.6" height="9.4" fill="#8e8e8e"/>
<path d="M587.2,181.8 H592.8 L591.6,192 L586,191 Z" fill="#6a6a6a" stroke="#111" stroke-width="0.5"/>
</g>
<path d="M400,236.6 H440 C470,237 490,244.8 515,244.8 C545,244.4 560,228 572,210 C578,201 583,195 587.5,188" fill="none" stroke="#0a0a0a" stroke-width="9.8" stroke-linecap="butt"/><path d="M400,236.6 H440 C470,237 490,244.8 515,244.8 C545,244.4 560,228 572,210 C578,201 583,195 587.5,188" fill="none" stroke="#2e2e2e" stroke-width="8.2" stroke-linecap="butt"/>
<path d="M402,234 H440 C470,234.4 490,242 515,242 C544,241.6 557,226.4 569.5,208.4" fill="none" stroke="#5a5a5a" stroke-width="2" stroke-linecap="round" opacity="0.9"/>
<g transform="translate(580.2,203) rotate(33)"><rect x="-5.2" y="-11.5" width="10.4" height="23" rx="1" fill="#3d3d3d" stroke="#0a0a0a" stroke-width="0.5"/><rect x="-5.2" y="-11.5" width="10.4" height="8" rx="1" fill="#6a6a6a" stroke="#0a0a0a" stroke-width="0.4"/><rect x="-2.4" y="-3.5" width="2.2" height="15" fill="#585858"/></g>
<rect x="387.6" y="231.4" width="14" height="10" rx="1" fill="#8a8a8a" stroke="#111" stroke-width="0.6"/><rect x="383" y="233" width="5" height="7" fill="#3c3c3c"/><rect x="375.8" y="230" width="8.4" height="11.8" rx="2" fill="#5c5c5c" stroke="#111" stroke-width="0.6"/><rect x="372" y="232.6" width="4" height="6" fill="#d9a80f" stroke="#3a2c00" stroke-width="0.4"/>
<path d="M443.6,206 V247 Q443.6,252.2 438,252.2 H400" fill="none" stroke="#1a1a1a" stroke-width="4"/><path d="M443.6,206 V247 Q443.6,252.2 438,252.2 H400" fill="none" stroke="#5c5c5c" stroke-width="2.4"/>
<path d="M384,250.6 H400 Q408.4,251 408,258 Q407.4,263 401,265.4 L389,269 Q382,271.6 381.4,278 V286" fill="none" stroke="#1a1a1a" stroke-width="4"/><path d="M384,250.6 H400 Q408.4,251 408,258 Q407.4,263 401,265.4 L389,269 Q382,271.6 381.4,278 V286" fill="none" stroke="#5c5c5c" stroke-width="2.4"/>
<rect x="374" y="246.6" width="8" height="8.4" rx="1.5" fill="#555" stroke="#111" stroke-width="0.5"/><rect x="381.6" y="248" width="8" height="5.4" fill="#444" stroke="#111" stroke-width="0.4"/>
<ellipse cx="385" cy="259.4" rx="4.4" ry="3.2" transform="rotate(-25 385 259.4)" fill="#a8a8a8" stroke="#222" stroke-width="0.6"/><ellipse cx="385" cy="259.4" rx="2.2" ry="1.6" transform="rotate(-25 385 259.4)" fill="#5a5a5a"/>
<ellipse cx="387.4" cy="279.6" rx="4.4" ry="3.2" transform="rotate(-25 387.4 279.6)" fill="#a8a8a8" stroke="#222" stroke-width="0.6"/><ellipse cx="387.4" cy="279.6" rx="2.2" ry="1.6" transform="rotate(-25 387.4 279.6)" fill="#5a5a5a"/>
<ellipse cx="390" cy="300.4" rx="4.4" ry="3.2" transform="rotate(-25 390 300.4)" fill="#a8a8a8" stroke="#222" stroke-width="0.6"/><ellipse cx="390" cy="300.4" rx="2.2" ry="1.6" transform="rotate(-25 390 300.4)" fill="#5a5a5a"/>
<rect x="375.2" y="285.6" width="10" height="6.4" rx="1.2" fill="#3a3a3a" stroke="#111" stroke-width="0.6"/><rect x="376" y="291.6" width="8.6" height="9" fill="#4a4a4a" stroke="#111" stroke-width="0.6"/><rect x="378.4" y="293" width="3.6" height="6" fill="#777"/><rect x="374.4" y="300.3" width="11.4" height="5" fill="#d4d4d4" stroke="#111" stroke-width="0.5"/><rect x="375.6" y="305.3" width="9.6" height="12.4" rx="1" fill="#3c3c3c" stroke="#111" stroke-width="0.6"/><rect x="378" y="307" width="4.6" height="5" fill="#666"/><path d="M373.4,319.6 L375,317.6 H386 L387.6,319.6 V323 L386,325 H375 L373.4,323 Z" fill="#585858" stroke="#111" stroke-width="0.5"/><rect x="376.2" y="325" width="7.4" height="14" rx="1.8" fill="#5e5e5e" stroke="#111" stroke-width="0.5"/><rect x="376.2" y="331" width="7.4" height="2" fill="#2a2a2a"/>
<path d="M336.5,331 L340.6,327.6 H348 V334.8 H340.6 Z" fill="#8a8a8a" stroke="#111" stroke-width="0.5"/><rect x="342.6" y="327" width="2" height="8.4" fill="#3a3a3a"/><rect x="349.4" y="326.2" width="8.2" height="10.6" rx="1.8" fill="#505050" stroke="#111" stroke-width="0.5"/><rect x="351.4" y="328" width="4" height="6" fill="#7a7a7a"/><rect x="358.8" y="330.4" width="7.2" height="8.6" rx="1.6" fill="#6a6a6a" stroke="#111" stroke-width="0.5"/><rect x="367.4" y="327" width="7.4" height="9.2" rx="1.6" fill="#5a5a5a" stroke="#111" stroke-width="0.5"/>
<circle cx="368.9" cy="306" r="1.8" fill="#6e6e6e" stroke="#111" stroke-width="0.4"/><circle cx="368.9" cy="321" r="1.6" fill="#6e6e6e" stroke="#111" stroke-width="0.4"/>
<g id="leaders" stroke="#e60f18" stroke-width="1.35" stroke-linecap="butt">
<line x1="247.3" y1="56.5" x2="237.8" y2="164.5"/>
<line x1="53.3" y1="153.2" x2="112.8" y2="190"/>
<line x1="29.8" y1="289.5" x2="150.8" y2="217.6"/>
<line x1="226.5" y1="408.2" x2="196.9" y2="354"/>
<line x1="396.8" y1="56.5" x2="419" y2="125"/>
<line x1="470.5" y1="56.5" x2="467.8" y2="124.2"/>
<line x1="544" y1="56.5" x2="533.6" y2="145.6"/>
<line x1="617.2" y1="56.5" x2="560.6" y2="129"/>
<line x1="431.8" y1="280.3" x2="427" y2="190"/>
<line x1="506.3" y1="280.3" x2="436.6" y2="169.8"/>
</g>
<text x="247.6" y="22.0" font-size="6.2" text-anchor="middle" textLength="16.0" lengthAdjust="spacingAndGlyphs" class="b">=HYD</text>
<text x="247.6" y="29.2" font-size="6.2" text-anchor="middle" textLength="32.6" lengthAdjust="spacingAndGlyphs" class="b">+HYT-B004</text>
<text x="247.6" y="36.1" font-size="5.8" text-anchor="middle" textLength="55.9" lengthAdjust="spacingAndGlyphs" class="k">Hydrauliköltemperatur</text>
<text x="247.6" y="42.9" font-size="5.8" text-anchor="middle" textLength="28.3" lengthAdjust="spacingAndGlyphs" class="r">KB-Stecker:</text>
<text x="247.6" y="49.8" font-size="5.8" text-anchor="middle" textLength="47.4" lengthAdjust="spacingAndGlyphs" class="r">=HYD+HYT-XB005</text>
<text x="247.6" y="55.0" font-size="3.9" text-anchor="middle" textLength="27.0" lengthAdjust="spacingAndGlyphs" class="g">&amp;EFS=HYD/1.8</text>
<text x="53.0" y="117.9" font-size="6.2" text-anchor="middle" textLength="15.4" lengthAdjust="spacingAndGlyphs" class="b">=HYD</text>
<text x="53.0" y="125.1" font-size="6.2" text-anchor="middle" textLength="32.6" lengthAdjust="spacingAndGlyphs" class="b">+HYT-B001</text>
<text x="53.0" y="132.0" font-size="5.8" text-anchor="middle" textLength="25.6" lengthAdjust="spacingAndGlyphs" class="k">Saugdruck</text>
<text x="53.0" y="138.8" font-size="5.8" text-anchor="middle" textLength="28.3" lengthAdjust="spacingAndGlyphs" class="r">KB-Stecker:</text>
<text x="53.0" y="145.7" font-size="5.8" text-anchor="middle" textLength="47.4" lengthAdjust="spacingAndGlyphs" class="r">=HYD+HYT-XB002</text>
<text x="53.0" y="150.9" font-size="3.9" text-anchor="middle" textLength="27.0" lengthAdjust="spacingAndGlyphs" class="g">&amp;EFS=HYD/1.0</text>
<text x="29.6" y="295.8" font-size="6.2" text-anchor="middle" textLength="15.5" lengthAdjust="spacingAndGlyphs" class="b">=HYD</text>
<text x="29.6" y="302.9" font-size="6.2" text-anchor="middle" textLength="32.6" lengthAdjust="spacingAndGlyphs" class="b">+HYT-B002</text>
<text x="29.6" y="309.9" font-size="5.8" text-anchor="middle" textLength="24.4" lengthAdjust="spacingAndGlyphs" class="k">Staudruck</text>
<text x="29.6" y="316.7" font-size="5.8" text-anchor="middle" textLength="28.3" lengthAdjust="spacingAndGlyphs" class="r">KB-Stecker:</text>
<text x="29.6" y="323.6" font-size="5.8" text-anchor="middle" textLength="47.4" lengthAdjust="spacingAndGlyphs" class="r">=HYD+HYT-XB003</text>
<text x="29.6" y="328.8" font-size="3.9" text-anchor="middle" textLength="27.0" lengthAdjust="spacingAndGlyphs" class="g">&amp;EFS=HYD/1.2</text>
<text x="227.3" y="415.4" font-size="6.2" text-anchor="middle" textLength="15.6" lengthAdjust="spacingAndGlyphs" class="b">=HYD</text>
<text x="227.3" y="422.5" font-size="6.2" text-anchor="middle" textLength="32.6" lengthAdjust="spacingAndGlyphs" class="b">+HYT-B003</text>
<text x="227.3" y="429.5" font-size="5.8" text-anchor="middle" textLength="44.4" lengthAdjust="spacingAndGlyphs" class="k">Hydraulikölniveau</text>
<text x="227.3" y="436.4" font-size="5.8" text-anchor="middle" textLength="19.5" lengthAdjust="spacingAndGlyphs" class="k">Störung</text>
<text x="227.3" y="443.2" font-size="5.8" text-anchor="middle" textLength="28.3" lengthAdjust="spacingAndGlyphs" class="r">KB-Stecker:</text>
<text x="227.3" y="449.2" font-size="5.8" text-anchor="middle" textLength="47.4" lengthAdjust="spacingAndGlyphs" class="r">=HYD+HYT-XB004</text>
<text x="227.3" y="454.3" font-size="3.9" text-anchor="middle" textLength="27.0" lengthAdjust="spacingAndGlyphs" class="g">&amp;EFS=HYD/1.4</text>
<text x="396.9" y="22.2" font-size="6.2" text-anchor="middle" textLength="15.6" lengthAdjust="spacingAndGlyphs" class="b">=ROT</text>
<text x="396.9" y="29.3" font-size="6.2" text-anchor="middle" textLength="32.3" lengthAdjust="spacingAndGlyphs" class="b">+HYT-Y004</text>
<text x="396.9" y="36.3" font-size="5.8" text-anchor="middle" textLength="30.7" lengthAdjust="spacingAndGlyphs" class="k">Rotor heben</text>
<text x="396.9" y="43.1" font-size="5.8" text-anchor="middle" textLength="28.3" lengthAdjust="spacingAndGlyphs" class="r">KB-Stecker:</text>
<text x="396.9" y="50.0" font-size="5.8" text-anchor="middle" textLength="47.4" lengthAdjust="spacingAndGlyphs" class="r">=ROT+HYT-XB004</text>
<text x="396.9" y="55.2" font-size="3.9" text-anchor="middle" textLength="27.0" lengthAdjust="spacingAndGlyphs" class="g">&amp;EFS=ROT/1.6</text>
<text x="470.3" y="22.2" font-size="6.2" text-anchor="middle" textLength="15.7" lengthAdjust="spacingAndGlyphs" class="b">=ROT</text>
<text x="470.3" y="29.3" font-size="6.2" text-anchor="middle" textLength="32.3" lengthAdjust="spacingAndGlyphs" class="b">+HYT-Y005</text>
<text x="470.3" y="36.3" font-size="5.8" text-anchor="middle" textLength="33.2" lengthAdjust="spacingAndGlyphs" class="k">Rotor senken</text>
<text x="470.3" y="43.1" font-size="5.8" text-anchor="middle" textLength="28.3" lengthAdjust="spacingAndGlyphs" class="r">KB-Stecker:</text>
<text x="470.3" y="50.0" font-size="5.8" text-anchor="middle" textLength="47.4" lengthAdjust="spacingAndGlyphs" class="r">=ROT+HYT-XB005</text>
<text x="470.3" y="55.2" font-size="3.9" text-anchor="middle" textLength="27.0" lengthAdjust="spacingAndGlyphs" class="g">&amp;EFS=ROT/1.8</text>
<text x="544.4" y="22.2" font-size="6.2" text-anchor="middle" textLength="16.1" lengthAdjust="spacingAndGlyphs" class="b">=HYD</text>
<text x="544.4" y="29.3" font-size="6.2" text-anchor="middle" textLength="32.7" lengthAdjust="spacingAndGlyphs" class="b">+HYT-Y002</text>
<text x="544.4" y="36.3" font-size="5.8" text-anchor="middle" textLength="37.9" lengthAdjust="spacingAndGlyphs" class="k">Nebenhydraulik</text>
<text x="544.4" y="43.1" font-size="5.8" text-anchor="middle" textLength="28.3" lengthAdjust="spacingAndGlyphs" class="r">KB-Stecker:</text>
<text x="544.4" y="50.0" font-size="5.8" text-anchor="middle" textLength="48.2" lengthAdjust="spacingAndGlyphs" class="r">=HYD+HYT-XB007</text>
<text x="544.4" y="55.2" font-size="3.9" text-anchor="middle" textLength="27.0" lengthAdjust="spacingAndGlyphs" class="g">&amp;EFS=HYD/2.2</text>
<text x="618.5" y="22.2" font-size="6.2" text-anchor="middle" textLength="16.1" lengthAdjust="spacingAndGlyphs" class="b">=HYD</text>
<text x="618.5" y="29.3" font-size="6.2" text-anchor="middle" textLength="31.9" lengthAdjust="spacingAndGlyphs" class="b">+HYT-Y001</text>
<text x="618.5" y="36.3" font-size="5.8" text-anchor="middle" textLength="17.1" lengthAdjust="spacingAndGlyphs" class="k">Bypass</text>
<text x="618.5" y="43.1" font-size="5.8" text-anchor="middle" textLength="28.3" lengthAdjust="spacingAndGlyphs" class="r">KB-Stecker:</text>
<text x="618.5" y="50.0" font-size="5.8" text-anchor="middle" textLength="47.4" lengthAdjust="spacingAndGlyphs" class="r">=HYD+HYT-XB006</text>
<text x="618.5" y="55.2" font-size="3.9" text-anchor="middle" textLength="27.0" lengthAdjust="spacingAndGlyphs" class="g">&amp;EFS=HYD/2.0</text>
<text x="431.6" y="286.3" font-size="6.2" text-anchor="middle" textLength="15.2" lengthAdjust="spacingAndGlyphs" class="b">=HEK</text>
<text x="431.6" y="293.4" font-size="6.2" text-anchor="middle" textLength="32.5" lengthAdjust="spacingAndGlyphs" class="b">+HYT-Y001</text>
<text x="431.6" y="300.4" font-size="5.8" text-anchor="middle" textLength="46.4" lengthAdjust="spacingAndGlyphs" class="k">Heckklappe heben</text>
<text x="431.6" y="307.2" font-size="5.8" text-anchor="middle" textLength="28.3" lengthAdjust="spacingAndGlyphs" class="r">KB-Stecker:</text>
<text x="431.6" y="314.1" font-size="5.8" text-anchor="middle" textLength="46.8" lengthAdjust="spacingAndGlyphs" class="r">=HEK+HYT-XB001</text>
<text x="431.6" y="319.3" font-size="3.9" text-anchor="middle" textLength="26.4" lengthAdjust="spacingAndGlyphs" class="g">&amp;EFS=HEK/1.0</text>
<text x="505.8" y="286.3" font-size="6.2" text-anchor="middle" textLength="15.2" lengthAdjust="spacingAndGlyphs" class="b">=HEK</text>
<text x="505.8" y="293.4" font-size="6.2" text-anchor="middle" textLength="32.9" lengthAdjust="spacingAndGlyphs" class="b">+HYT-Y002</text>
<text x="505.8" y="300.4" font-size="5.8" text-anchor="middle" textLength="48.8" lengthAdjust="spacingAndGlyphs" class="k">Heckklappe senken</text>
<text x="505.8" y="307.2" font-size="5.8" text-anchor="middle" textLength="28.3" lengthAdjust="spacingAndGlyphs" class="r">KB-Stecker:</text>
<text x="505.8" y="314.1" font-size="5.8" text-anchor="middle" textLength="46.7" lengthAdjust="spacingAndGlyphs" class="r">=HEK+HYT-XB002</text>
<text x="505.8" y="319.3" font-size="3.9" text-anchor="middle" textLength="26.8" lengthAdjust="spacingAndGlyphs" class="g">&amp;EFS=HEK/1.2</text>
<g id="hinweis">
<rect x="557.3" y="421.9" width="190" height="90.5" fill="#fff" stroke="#1a1a1a" stroke-width="1.1"/>
<line x1="557.2" y1="441.3" x2="738" y2="441.3" stroke="#1a1a1a" stroke-width="1"/>
<line x1="576.8" y1="421.9" x2="576.8" y2="441.3" stroke="#1a1a1a" stroke-width="1"/>
<circle cx="566.8" cy="431.7" r="6.8" fill="url(#gInfo)" stroke="#6ea0e6" stroke-width="0.7"/>
<ellipse cx="566.2" cy="428.4" rx="4.8" ry="2.8" fill="#ffffff" opacity="0.28"/>
<text x="567" y="435.8" font-size="11" font-style="italic" font-weight="bold" text-anchor="middle" fill="#fff" style="font-family:'Liberation Serif',serif">i</text>
<text x="583.2" y="429.6" font-size="5.2" font-weight="bold" class="mono" textLength="20.8" lengthAdjust="spacingAndGlyphs">HINWEIS:</text>
<text x="583.2" y="436" font-size="5.2" class="mono" textLength="149.6" lengthAdjust="spacingAndGlyphs">M12-STECKVERBINDER MIT DREHMOMENTWERKZEUG ANZIEHEN</text>
<text x="563" y="504.6" font-size="4.7" fill="#222" textLength="167.4" lengthAdjust="spacingAndGlyphs">BACKHUS: 99.98.003.279 = MURR: 7000-99-102-0000000 (0.6Nm, SW13)</text>
<text x="563" y="509.7" font-size="4.7" fill="#222" textLength="169.8" lengthAdjust="spacingAndGlyphs">BACKHUS: 99.98.003.399 = MURR: 7000-99-108-0000000 (0.6Nm, SW14)</text>
<g id="tool">
<ellipse cx="650" cy="484" rx="55" ry="5" fill="#000" opacity="0.05"/>
<g transform="translate(690,459.5) rotate(-17.5)">
<path d="M-27,-4.6 C-20,-6 -8,-8 4,-7.6 C14,-7.2 22,-6.4 26,-5.6 L27.4,5.4 C20,6.8 12,7.6 2,7.4 C-8,7.2 -20,5.6 -27,4.6 Z" fill="url(#gHandle)"/>
<path d="M22,-6.6 C26,-6.8 29.5,-4 29.8,0 C30,4 27,6.6 23,6.6 Z" fill="#3fae3a"/>
<path d="M-27,-5 L-12,-7.4 C-14,-2 -14,3 -11,6.6 L-27,5 Z" fill="#3fb03c"/>
<rect x="-36" y="-4.6" width="9" height="9.2" rx="1" fill="#4aa8e8"/>
<rect x="-37.5" y="-3.4" width="2.4" height="6.8" fill="#1a1a1a"/>
</g>
<path d="M655.5,471.6 L641,474.6" stroke="#2f7fc8" stroke-width="2.2"/><path d="M648,473 L641,474.6" stroke="#1a1a1a" stroke-width="2.6"/>
<path d="M590.5,474.4 L636,469.4 Q642.5,469 643.5,473 L642.8,477.5 L637.5,481.6 L633,479.8 L634,475.8 L592,480.6 Q589.4,478 590.5,474.4 Z" fill="#1c1c1c"/>
<path d="M601,474.4 L612,473.2" stroke="#3fae3a" stroke-width="1.1"/>
<path d="M590.8,476.6 Q587.8,478 588.2,482 L589.6,489.6" fill="none" stroke="#8a8a8a" stroke-width="1.7" stroke-linecap="round"/>
<path d="M596.8,480 L597.2,493.6" fill="none" stroke="#9a9a9a" stroke-width="1.9" stroke-linecap="round"/>
</g></g>
<g id="titleblock" stroke="#4f6c97" stroke-width="0.9" fill="none">
<line x1="0" y1="522.3" x2="738" y2="522.3" stroke="#6c86ae"/>
<line x1="0" y1="551.5" x2="738" y2="551.5" stroke="#6c86ae"/>
<line x1="0" y1="529.7" x2="166" y2="529.7" stroke="#6c86ae"/>
<line x1="0" y1="537.1" x2="166" y2="537.1" stroke="#6c86ae"/>
<line x1="0" y1="544.4" x2="166" y2="544.4" stroke="#6c86ae"/>
<line x1="18.5" y1="522.3" x2="18.5" y2="551.5" stroke="#3f5b8a"/>
<line x1="55.7" y1="522.3" x2="55.7" y2="551.5" stroke="#3f5b8a"/>
<line x1="92.5" y1="522.3" x2="92.5" y2="551.5" stroke="#3f5b8a"/>
<line x1="114.6" y1="522.3" x2="114.6" y2="551.5" stroke="#3f5b8a"/>
<line x1="166" y1="522.3" x2="166" y2="551.5" stroke="#3f5b8a"/>
<line x1="166" y1="544.4" x2="321.4" y2="544.4" stroke="#6c86ae"/>
<line x1="243.3" y1="544.4" x2="243.3" y2="551.5" stroke="#3f5b8a"/>
<line x1="321.4" y1="522.3" x2="321.4" y2="551.5" stroke="#3f5b8a"/>
<line x1="406.2" y1="522.3" x2="406.2" y2="551.5" stroke="#3f5b8a"/>
<line x1="535.3" y1="522.3" x2="535.3" y2="551.5" stroke="#3f5b8a"/>
<line x1="535.3" y1="537.1" x2="738" y2="537.1" stroke="#6c86ae"/>
<line x1="592.4" y1="537.1" x2="592.4" y2="551.5" stroke="#3f5b8a"/>
<line x1="664.6" y1="522.3" x2="664.6" y2="537.1" stroke="#3f5b8a"/>
<line x1="664.6" y1="529.7" x2="738" y2="529.7" stroke="#6c86ae"/>
<line x1="711.2" y1="522.3" x2="711.2" y2="537.1" stroke="#3f5b8a"/>
<line x1="719.7" y1="537.1" x2="719.7" y2="551.5" stroke="#3f5b8a"/>
<line x1="719.7" y1="544.4" x2="738" y2="544.4" stroke="#6c86ae"/>
</g>
<text x="94" y="527.6" font-size="4.3" class="tb" text-anchor="start" textLength="11.3" lengthAdjust="spacingAndGlyphs">Datum</text>
<text x="94" y="535" font-size="4.3" class="tb" text-anchor="start" textLength="10" lengthAdjust="spacingAndGlyphs">Bearb.</text>
<text x="94" y="542.3" font-size="4.3" class="tb" text-anchor="start" textLength="13" lengthAdjust="spacingAndGlyphs">Gepr&#252;ft</text>
<text x="94" y="549.6" font-size="4.3" class="tb" text-anchor="start" textLength="16" lengthAdjust="spacingAndGlyphs">Ursprung</text>
<text x="116.6" y="527.6" font-size="4.3" class="tb" text-anchor="start" textLength="19.8" lengthAdjust="spacingAndGlyphs">20.03.2017</text>
<text x="116.6" y="535" font-size="4.3" class="tb" text-anchor="start" textLength="5" lengthAdjust="spacingAndGlyphs">US8</text>
<text x="116.6" y="549.6" font-size="4.3" class="tb" text-anchor="start" textLength="8.6" lengthAdjust="spacingAndGlyphs">V3.00</text>
<text x="20" y="549.6" font-size="4.3" class="tb" text-anchor="start" textLength="11.5" lengthAdjust="spacingAndGlyphs">Datum</text>
<text x="56.8" y="549.6" font-size="4.3" class="tb" text-anchor="start" textLength="10.3" lengthAdjust="spacingAndGlyphs">Name</text>
<text x="0.3" y="549.6" font-size="4.3" class="tb" text-anchor="start">g</text>
<text x="168" y="530" font-size="5.8" class="tb" text-anchor="start" textLength="60.6" lengthAdjust="spacingAndGlyphs">Dreiecksmietenumsetzer</text>
<text x="168" y="542.7" font-size="5.8" class="tb" text-anchor="start" textLength="10.8" lengthAdjust="spacingAndGlyphs">A xx</text>
<text x="167.6" y="549.6" font-size="4.3" class="tb" text-anchor="start" textLength="22" lengthAdjust="spacingAndGlyphs">Ersetzt durch</text>
<text x="245.2" y="549.6" font-size="4.3" class="tb" text-anchor="start" textLength="22" lengthAdjust="spacingAndGlyphs">Ersetzt durch</text>
<text x="407.8" y="536.2" font-size="6" class="tb" text-anchor="start" textLength="99.8" lengthAdjust="spacingAndGlyphs">Hydraulliktank Ventilblock Rotorhub und</text>
<text x="407.8" y="543.2" font-size="6" class="tb" text-anchor="start" textLength="38.5" lengthAdjust="spacingAndGlyphs">Nebenhydraulik</text>
<text x="538" y="527.9" font-size="4.3" class="tb" text-anchor="start" textLength="122" lengthAdjust="spacingAndGlyphs">Die Vervielf&#228;ltigung und/oder Weitergabe an Dritte ist ausdr&#252;cklich</text>
<text x="538" y="532.8" font-size="4.3" class="tb" text-anchor="start" textLength="17.6" lengthAdjust="spacingAndGlyphs">untersagt.</text>
<text x="563.8" y="546.5" font-size="5.6" class="tb" text-anchor="middle" textLength="21.4" lengthAdjust="spacingAndGlyphs">XXXXXX</text>
<text x="653" y="546.3" font-size="6.4" class="tb" text-anchor="middle" textLength="57.5" lengthAdjust="spacingAndGlyphs">EP - A $c_A 6x (V3.00)</text>
<text x="666.3" y="527.6" font-size="4.3" class="tb" text-anchor="start" textLength="12" lengthAdjust="spacingAndGlyphs">&amp; ELD</text>
<text x="666.3" y="534.8" font-size="4.3" class="tb" text-anchor="start" textLength="14" lengthAdjust="spacingAndGlyphs"># ELD1</text>
<text x="712.6" y="527.6" font-size="4.3" class="tb" text-anchor="start">+</text>
<text x="712.6" y="534.8" font-size="4.3" class="tb" text-anchor="start">+</text>
<text x="721.7" y="542.5" font-size="4.3" class="tb" text-anchor="start" textLength="8" lengthAdjust="spacingAndGlyphs">Blatt</text>
<text x="721.7" y="549.7" font-size="4.3" class="tb" text-anchor="start" textLength="8" lengthAdjust="spacingAndGlyphs">Blatt</text>
<text x="323.6" y="544.3" font-size="13.2" font-weight="bold" fill="#1b4e8e" stroke="#1b4e8e" stroke-width="0.55" textLength="63.6" lengthAdjust="spacingAndGlyphs">BACKHUS</text>
<g fill="none" stroke="#1b4e8e" stroke-width="1.15">
<circle cx="382.8" cy="534.6" r="7.5" stroke-width="1.4"/>
<path d="M377.5,529 A10.5,10.5 0 0 1 391,543.6"/>
<path d="M380,526.4 A13.2,12.6 0 0 1 395.5,543.8"/>
<path d="M388,525.6 A12,12.5 0 0 1 400,543.8"/>
<path d="M394,526.2 A10.5,12 0 0 1 404.2,543.6"/>
</g>
</svg></body></html>
